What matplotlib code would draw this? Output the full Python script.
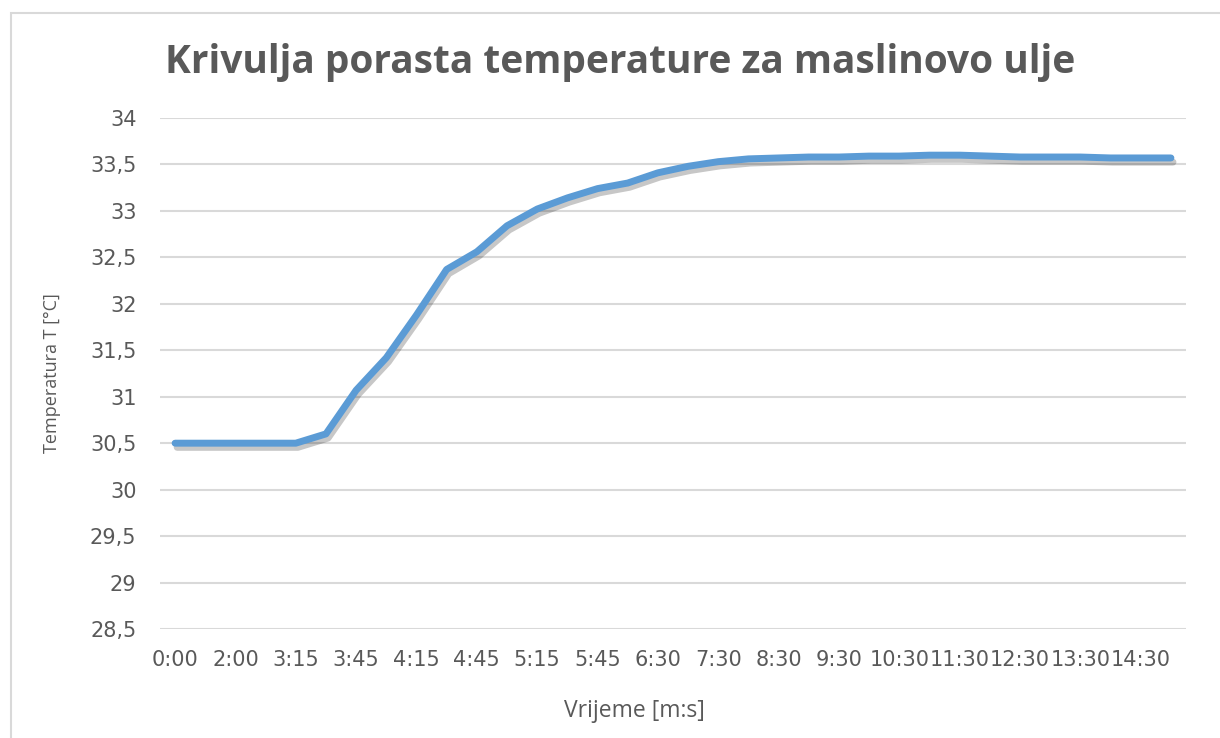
import matplotlib
matplotlib.use('Agg')
import matplotlib.pyplot as plt
import matplotlib.patheffects as pe
from matplotlib.patches import Rectangle

# Data
times = ['0:00', '1:00', '2:00', '3:00', '3:15', '3:30', '3:45', '4:00', '4:15', '4:30',
         '4:45', '5:00', '5:15', '5:30', '5:45', '6:00', '6:30', '7:00', '7:30', '8:00',
         '8:30', '9:00', '9:30', '10:00', '10:30', '11:00', '11:30', '12:00', '12:30', '13:00',
         '13:30', '14:00', '14:30', '15:00']
temps = [30.5, 30.5, 30.5, 30.5, 30.5, 30.6, 31.07, 31.42, 31.88, 32.37,
         32.56, 32.84, 33.02, 33.14, 33.24, 33.30, 33.41, 33.48, 33.53, 33.56,
         33.57, 33.58, 33.58, 33.59, 33.59, 33.60, 33.60, 33.59, 33.58, 33.58,
         33.58, 33.57, 33.57, 33.57]
yticks = [28.5, 29, 29.5, 30, 30.5, 31, 31.5, 32, 32.5, 33, 33.5, 34]

TXT = '#595959'
GRID = '#D9D9D9'
LINE = '#5B9BD5'
plt.rcParams['font.family'] = ['Open Sans', 'DejaVu Sans']

fig = plt.figure(figsize=(12.2, 7.38), dpi=100)
# chart area frame
fig.patches.append(Rectangle((11 / 1220, -0.1), 1.2, 1 - 13 / 738 + 0.1, transform=fig.transFigure,
                             fill=False, edgecolor=GRID, linewidth=1.5))

ax = fig.add_axes([160 / 1220, 1 - 629 / 738, (1186 - 160) / 1220, (629 - 118) / 738])
x = list(range(len(times)))
ax.plot(x, temps, color=LINE, linewidth=5, solid_capstyle='round', solid_joinstyle='round',
        path_effects=[pe.SimpleLineShadow(offset=(1.5, -3), shadow_color='black', alpha=0.22),
                      pe.Normal()], zorder=3)

ax.set_xlim(-0.5, len(times) - 0.5)
ax.set_ylim(28.5, 34)
ax.set_yticks(yticks)
ax.set_yticklabels([('%g' % v).replace('.', ',') for v in yticks])
ax.set_xticks(x[::2])
ax.set_xticklabels(times[::2])
for lbl in ax.get_xticklabels() + ax.get_yticklabels():
    lbl.set_fontfamily('DejaVu Sans')
for s in ax.spines.values():
    s.set_visible(False)
ax.grid(axis='y', color=GRID, linewidth=1.5)
ax.set_axisbelow(True)
ax.tick_params(length=0, labelsize=15, colors=TXT)
ax.tick_params(axis='y', pad=17)
ax.tick_params(axis='x', pad=15)

fig.text(52 / 1220, 1 - 373 / 738, 'Temperatura T [°C]', rotation=90, ha='center', va='center',
         fontsize=13, color=TXT)
fig.text(634 / 1220, 1 - 711 / 738, 'Vrijeme [m:s]', ha='center', va='center',
         fontsize=16.5, color=TXT)
fig.text(620 / 1220, 1 - 62 / 738, 'Krivulja porasta temperature za maslinovo ulje',
         ha='center', va='center', fontsize=28, fontweight='bold', color=TXT)

fig.savefig('out.png', dpi=100)
